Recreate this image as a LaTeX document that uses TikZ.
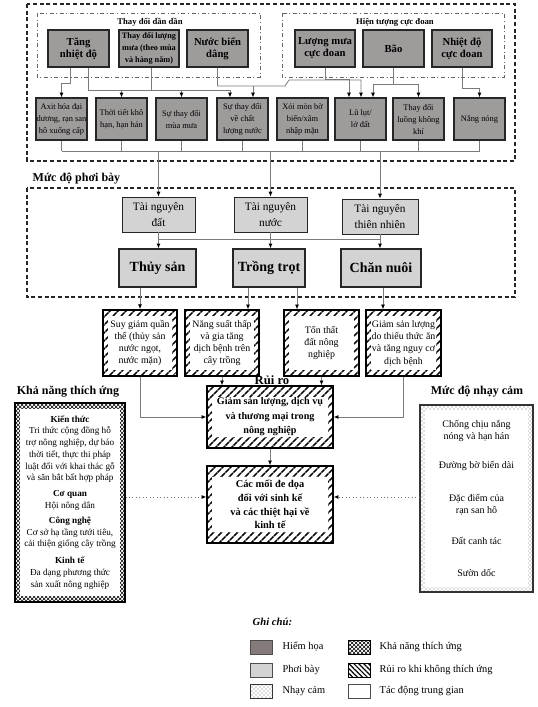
\documentclass[tikz,border=0pt]{standalone}
\usepackage{fontspec}
\setmainfont{Liberation Serif}
\usetikzlibrary{arrows.meta,patterns,patterns.meta}
\definecolor{hazc}{HTML}{9E9B9B}
\definecolor{hazl}{HTML}{857B7B}
\definecolor{expc}{HTML}{D3D3D3}
\definecolor{lnc}{HTML}{7A7A7A}
\begin{document}
\begin{tikzpicture}[x=0.75pt,y=-0.75pt,
  bx/.style args={#1/#2/#3/#4}{at={({(#1+#3)/2},{(#2+#4)/2})}, anchor=center, inner sep=0pt, minimum width={(#3-#1)*0.75pt}, minimum height={(#4-#2)*0.75pt}},
  hz/.style={draw=black!85, line width=0.9pt, fill=hazc, inner sep=0pt, align=center},
  hzbig/.style={hz, font=\bfseries\fontsize{8}{9}\selectfont},
  hzsmall/.style={hz, font=\fontsize{6.3}{9}\selectfont},
  ex/.style={draw=black!85, line width=0.7pt, fill=expc, inner sep=0pt, align=center, font=\fontsize{8.5}{11.5}\selectfont},
  exbig/.style={ex, line width=0.9pt, font=\bfseries\fontsize{10.5}{12}\selectfont},
  inset/.style 2 args={path picture={\fill[white] ([shift={(#1,#2)}]path picture bounding box.north west) rectangle ([shift={(-#1,-#2)}]path picture bounding box.south east);}},
  risk/.style={draw=black, line width=1pt, inner sep=0pt, align=center, pattern={Lines[angle=45,distance=4pt,line width=1.3pt]}},
  risksmall/.style={risk, inset={5}{6}, font=\fontsize{7.4}{9.2}\selectfont},
  adapt/.style={draw=black, line width=0.8pt, inner sep=0pt, align=center, pattern=crosshatch},
  sens/.style={draw=black!80, line width=0.8pt, inner sep=0pt, align=center, pattern=crosshatch dots, pattern color=black!55},
  grp/.style={draw=black!60, line width=0.6pt, dash dot},
  zone/.style={draw=black!85, line width=0.8pt, dash pattern=on 3pt off 2pt},
  ln/.style={draw=lnc, line width=0.6pt},
  arr/.style={ln, -{Latex[length=3.6pt,width=3pt,color=black]}},
  dotarr/.style={draw=black!55, line width=0.6pt, dotted, -{Latex[length=3.6pt,width=3pt,color=black]}},
  ttl/.style={font=\bfseries\fontsize{9}{11}\selectfont},
  grpttl/.style={font=\bfseries\fontsize{6.5}{8}\selectfont},
  lgt/.style={anchor=west, font=\fontsize{7.8}{9}\selectfont},
  sw/.style={draw=black!70, line width=0.6pt, inner sep=0pt},
]
\fill[white] (0,0) rectangle (537,707);
\useasboundingbox (0,0) rectangle (537,707);

% helper coordinates
\coordinate (X70) at (70,0);
\coordinate (X88) at (88,0);
\coordinate (X151) at (151,0);
\coordinate (X248) at (248,0);
\coordinate (X297) at (297,0);
\coordinate (X349) at (349,0);
\coordinate (X361) at (361,0);
\coordinate (X373) at (373,0);
\coordinate (X383) at (383,0);
\coordinate (Y497) at (0,497);
\coordinate (B1) at (230,90);
\coordinate (N1) at (253,86);
\coordinate (B3) at (0,151);
\coordinate (B4) at (0,239);

% zones
\draw[zone] (27,4) rectangle (515,161);
\draw[grp] (37,13) rectangle (260,77);
\draw[grp] (282,13) rectangle (504,77);
\draw[zone] (27,188) rectangle (515,297);

% titles
\node[grpttl] (g1) at (150,22) {Thay đổi dần dần};
\node[grpttl] (g2) at (395,22) {Hiện tượng cực đoan};
\node[ttl, anchor=west] (z2) at (28,179) {Mức độ phơi bày};
\node[ttl] (kat) at (68,392) {Khả năng thích ứng};
\node[ttl] (mnt) at (477,392) {Mức độ nhạy cảm};

% hazards
\node[hzbig, bx=48/30/109/67] (t1) {Tăng\\nhiệt độ};
\node[hz, font=\bfseries\fontsize{6.2}{8.7}\selectfont, bx=119/30/179/67] (t2) {Thay đổi lượng\\mưa (theo mùa\\và hàng năm)};
\node[hzbig, bx=187/30/248/67] (t3) {Nước biển\\dâng};
\node[hzbig, bx=295/30/355/67] (e1) {Lượng mưa\\cực đoan};
\node[hzbig, bx=363/30/424/67] (e2) {Bão};
\node[hzbig, bx=432/30/492/67] (e3) {Nhiệt độ\\cực đoan};

\node[hzsmall, bx=36/98/87/140] (a1) {Axit hóa đại\\dương, rạn san\\hô xuống cấp};
\node[hzsmall, bx=96/98/147/140] (a2) {Thời tiết khô\\hạn, hạn hán};
\node[hzsmall, bx=156/98/207/140] (a3) {Sự thay đổi\\mùa mưa};
\node[hzsmall, bx=217/98/268/140] (a4) {Sự thay đổi\\về chất\\lượng nước};
\node[hzsmall, bx=277/98/328/140] (xm) {Xói mòn bờ\\biển/xâm\\nhập mặn};
\node[hzsmall, bx=335/98/386/140] (lu) {Lũ lụt/\\lở đất};
\node[hzsmall, bx=393/98/444/140] (lk) {Thay đổi\\luồng không\\khí};
\node[hzsmall, bx=454/98/505/140] (nn) {Nắng nóng};

% exposure
\node[ex, bx=122/197/195/232] (r1) {Tài nguyên\\đất};
\node[ex, bx=234/197/307/232] (r2) {Tài nguyên\\nước};
\node[ex, bx=342/199/418/234] (r3) {Tài nguyên\\thiên nhiên};
\node[exbig, bx=119/249/196/287] (ts) {Thủy sản};
\node[exbig, bx=233/249/305/287] (tt) {Trồng trọt};
\node[exbig, bx=341/249/421/287] (cn) {Chăn nuôi};

% risks
\node[risksmall, bx=103/310/177/376] (h1) {Suy giảm quần\\thể (thủy sản\\nước ngọt,\\nước mặn)};
\node[risksmall, bx=185/310/259/376] (h2) {Năng suất thấp\\và gia tăng\\dịch bệnh trên\\cây trồng};
\node[risksmall, bx=284/310/359/376] (h3) {Tổn thất\\đất nông\\nghiệp};
\node[risksmall, bx=366/310/441/376] (h4) {Giảm sản lượng\\do thiếu thức ăn\\và tăng nguy cơ\\dịch bệnh};
\node[risk, inset={5}{11}, font=\bfseries\fontsize{7.6}{10.9}\selectfont, bx=207/386/333/448] (gs) {Giảm sản lượng, dịch vụ\\và thương mại trong\\nông nghiệp};
\node[risk, inset={5}{11}, font=\bfseries\fontsize{7.8}{10.3}\selectfont, bx=207/466/333/543] (cm) {Các mối đe dọa\\đối với sinh kế\\và các thiệt hại về\\kinh tế};
\node[font=\bfseries\fontsize{9.5}{11}\selectfont, inner sep=0pt] (rr) at (272,380.5) {Rủi ro};

% adaptive capacity & sensitivity
\node[adapt, inset={5}{6}, font=\fontsize{6.9}{8.8}\selectfont, bx=15/403/125/602] (ka) {\textbf{Kiến thức}\\Tri thức cộng đồng hỗ\\trợ nông nghiệp, dự báo\\thời tiết, thực thi pháp\\luật đối với khai thác gỗ\\và săn bắt bất hợp pháp\\[3pt]\textbf{Cơ quan}\\Hội nông dân\\[2.5pt]\textbf{Công nghệ}\\Cơ sở hạ tầng tưới tiêu,\\cải thiện giống cây trồng\\[4pt]\textbf{Kinh tế}\\Đa dạng phương thức\\sản xuất nông nghiệp};
\node[sens, inset={5}{5}, font=\fontsize{7.5}{9}\selectfont, bx=420/405/533/592] (mn) {Chống chịu nắng\\nóng và hạn hán\\[12.7pt]Đường bờ biển dài\\[15.7pt]Đặc điểm của\\rạn san hô\\[14.2pt]Đất canh tác\\[15.7pt]Sườn dốc};

% connectors: hazards
\draw[arr] (t1.south -| X70) -- ++(0,16) -| (a1.north);
\draw[ln] (t1.south -| X88) |- (B1);
\draw[ln] (t2.south -| X151) -- (B1 -| X151);
\draw[arr] (a2.north |- B1) -- (a2.north);
\draw[arr] (a3.north |- B1) -- (a3.north);
\draw[arr] (B1) -- (a4.north -| B1);
\draw[arr] (t3.south) |- (285,86) -- (289,80) -- (361,80) -- (lu.north -| X361);
\draw[arr] (N1) -- (a4.north -| N1);
\draw[arr] (e1.south) -- ++(0,12) -| (lu.north -| X349);
\draw[ln] (e2.south) -- ++(0,17) coordinate (B2);
\draw[arr] (B2) -| (lu.north -| X373);
\draw[arr] (B2) -| (lk.north);
\draw[arr] (e3.south) -- ++(0,21) -| (nn.north);

% bottom bus of hazards
\foreach \n in {a1,a2,a3,a4,xm,lu,lk,nn} \draw[ln] (\n.south) -- (\n.south |- B3);
\draw[ln] (a1.south |- B3) -- (nn.south |- B3);
\draw[arr] (r1.north |- B3) -- (r1.north);
\draw[arr] (r2.north |- B3) -- (r2.north);
\draw[arr] (r3.north |- B3) -- (r3.north);

% exposure bus
\draw[ln] (r1.south) -- (r1.south |- B4) -- (r3.south |- B4) -- (r3.south);
\draw[ln] (r2.south) -- (r2.south |- B4);
\draw[arr] (r1.south |- B4) -- (ts.north -| r1.south);
\draw[arr] (r2.south |- B4) -- (tt.north -| r2.south);
\draw[arr] (r3.south |- B4) -- (cn.north -| r3.south);

% to risks
\draw[arr] (ts.south -| h1.north) -- (h1.north);
\draw[arr] (tt.south -| X248) -- (h2.north -| X248);
\draw[arr] (tt.south -| X297) -- (h3.north -| X297);
\draw[arr] (cn.south -| X383) -- (h4.north -| X383);
\draw[arr] (h1.south) |- (gs.west);
\draw[arr] (h2.south) -- (gs.north -| h2.south);
\draw[arr] (h3.south) -- (gs.north -| h3.south);
\draw[arr] (h4.south) |- (gs.east);
\draw[arr] (gs.south) -- (cm.north);
\draw[dotarr] (ka.east |- Y497) -- (cm.west |- Y497);
\draw[dotarr] (mn.west |- Y497) -- (cm.east |- Y497);

% legend
\node[font=\bfseries\itshape\fontsize{8}{10}\selectfont, anchor=west] (lgh) at (248,622) {Ghi chú:};
\node[sw, fill=hazl, bx=250/640/272/654] (s1) {};
\node[lgt] (l1) at (278,647) {Hiểm họa};
\node[sw, fill=expc, bx=250/663/272/677] (s2) {};
\node[lgt] (l2) at (278,670) {Phơi bày};
\node[sens, line width=0.6pt, bx=250/684/272/698] (s3) {};
\node[lgt] (l3) at (278,691) {Nhạy cảm};
\node[adapt, line width=0.6pt, bx=348/640/370/654] (s4) {};
\node[lgt] (l4) at (375,647) {Khả năng thích ứng};
\node[sw, draw=black, pattern={Lines[angle=-45,distance=2.6pt,line width=0.9pt]}, bx=348/663/370/677] (s5) {};
\node[lgt] (l5) at (375,670) {Rủi ro khi không thích ứng};
\node[sw, fill=white, bx=348/684/370/698] (s6) {};
\node[lgt] (l6) at (375,691) {Tác động trung gian};
\end{tikzpicture}
\end{document}
